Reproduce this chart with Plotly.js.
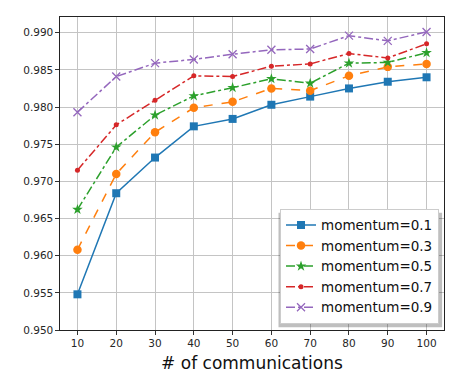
<!DOCTYPE html>
<html><head><meta charset="utf-8">
<script src="https://cdn.plot.ly/plotly-3.0.1.min.js"></script>
<style>html,body{margin:0;padding:0;background:#fff}#chart{width:460px;height:389px}</style>
</head><body><div id="chart"></div>
<script>
const xVals = [10, 20, 30, 40, 50, 60, 70, 80, 90, 100];
const m01 = [0.9548, 0.9684, 0.9732, 0.9774, 0.9784, 0.9803, 0.9814, 0.9825, 0.9834, 0.9840];
const m03 = [0.9608, 0.9710, 0.9766, 0.9799, 0.9807, 0.9825, 0.9822, 0.9842, 0.9854, 0.9858];
const m05 = [0.9662, 0.9746, 0.9789, 0.9815, 0.9826, 0.9838, 0.9832, 0.9859, 0.9860, 0.9873];
const m07 = [0.9715, 0.9776, 0.9809, 0.9842, 0.9841, 0.9855, 0.9858, 0.9872, 0.9866, 0.9885];
const m09 = [0.9793, 0.9841, 0.9859, 0.9864, 0.9871, 0.9877, 0.9878, 0.9896, 0.9889, 0.9901];
const seriesNames = ['momentum=0.1', 'momentum=0.3', 'momentum=0.5', 'momentum=0.7', 'momentum=0.9'];
const yTicks = [0.950, 0.955, 0.960, 0.965, 0.970, 0.975, 0.980, 0.985, 0.990];

const styles = [
  {color:'#1f77b4', dash:'solid', symbol:'square', size:8},
  {color:'#ff7f0e', dash:'dash', symbol:'circle', size:8.5},
  {color:'#2ca02c', dash:'dashdot', symbol:'star', size:8},
  {color:'#d62728', dash:'dashdot', symbol:'circle', size:5},
  {color:'#9467bd', dash:'dashdot', symbol:'x-thin-open', size:8}
];
const data = [m01, m03, m05, m07, m09].map((ys, i) => {
  const s = styles[i];
  const marker = {symbol: s.symbol, size: s.size, color: s.color};
  if (s.symbol === 'x-thin-open') marker.line = {color: s.color, width: 1.3};
  return {
    x: xVals, y: ys, name: seriesNames[i], type: 'scatter', mode: 'lines+markers',
    line: {color: s.color, width: 1.5, dash: s.dash},
    marker: marker
  };
});

const layout = {
  width: 460, height: 389,
  margin: {l: 60, r: 16, t: 17, b: 59},
  paper_bgcolor: '#fff', plot_bgcolor: '#fff',
  font: {family: 'DejaVu Sans', color: '#262626', size: 10.5},
  showlegend: true,
  xaxis: {
    range: [5.5, 104.5], tickvals: xVals, ticks: 'outside', ticklen: 3.5, tickcolor: '#333',
    showgrid: true, gridcolor: '#c4c4c4', gridwidth: 1,
    showline: true, linecolor: '#222', linewidth: 1.2, mirror: true, zeroline: false,
    title: {text: '# of communications', font: {size: 17, color: '#111'}, standoff: 8}
  },
  yaxis: {
    range: [0.950, 0.99211], tickvals: yTicks, tickformat: '.3f', ticks: 'outside', ticklen: 3.5, tickcolor: '#333',
    showgrid: true, gridcolor: '#c4c4c4', gridwidth: 1,
    showline: true, linecolor: '#222', linewidth: 1.2, mirror: true, zeroline: false
  },
  legend: {
    x: 0.987, y: 0.02, xanchor: 'right', yanchor: 'bottom',
    bgcolor: 'rgba(255,255,255,1)', bordercolor: '#cccccc', borderwidth: 1,
    font: {size: 13.5, color: '#111'}, tracegroupgap: 0, itemwidth: 30
  },
  shapes: [
    {type: 'rect', xref: 'paper', yref: 'paper', x0: 0.569, x1: 0.995, y0: 0.009, y1: 0.375,
     fillcolor: 'rgba(0,0,0,0.25)', line: {width: 0}, layer: 'above'}
  ]
};
Plotly.newPlot('chart', data, layout, {displayModeBar: false});
</script></body></html>
